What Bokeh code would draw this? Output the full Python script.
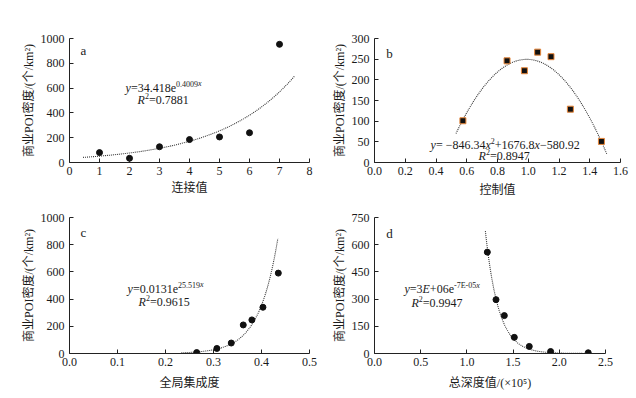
import numpy as np
from bokeh.plotting import figure
from bokeh.models import Range1d, FixedTicker, Label
from bokeh.layouts import column, row
from bokeh.embed import file_html
from bokeh.resources import INLINE

# ---------------- data ----------------
conn_x = [1, 2, 3, 4, 5, 6, 7]
conn_y = [80, 34, 127, 185, 206, 240, 953]
conn_fit = (34.418, 0.4009)          # y = a*e^(b x)
conn_fit_range = (0.45, 7.5)

ctrl_x = [0.575, 0.862, 0.975, 1.061, 1.148, 1.274, 1.476]
ctrl_y = [101, 246, 222, 267, 256, 129, 51]
ctrl_fit = (-846.34, 1676.8, -580.92)  # y = a x^2 + b x + c
ctrl_fit_range = (0.53, 1.51)

integ_x = [0.265, 0.307, 0.337, 0.362, 0.380, 0.403, 0.435]
integ_y = [7, 37, 77, 210, 247, 340, 591]
integ_fit = (0.0131, 25.519)
integ_fit_range = (0.233, 0.434)

depth_x = [1.221, 1.315, 1.405, 1.513, 1.675, 1.906, 2.313]
depth_y = [559, 297, 209, 89, 39, 11, 4]
depth_fit = (3e6, -7e-5)             # x in units of 1e5
depth_fit_range = (1.20, 2.30)

a_xticks = [0, 1, 2, 3, 4, 5, 6, 7, 8]
a_xlabels = ["0", "1", "2", "3", "4", "5", "6", "7", "8"]
a_yticks = [0, 200, 400, 600, 800, 1000]
b_xticks = [0.0, 0.2, 0.4, 0.6, 0.8, 1.0, 1.2, 1.4, 1.6]
b_xlabels = ["0.0", "0.2", "0.4", "0.6", "0.8", "1.0", "1.2", "1.4", "1.6"]
b_yticks = [0, 50, 100, 150, 200, 250, 300]
c_xticks = [0.0, 0.1, 0.2, 0.3, 0.4, 0.5]
c_xlabels = ["0.0", "0.1", "0.2", "0.3", "0.4", "0.5"]
c_yticks = [0, 200, 400, 600, 800, 1000]
d_xticks = [0.0, 0.5, 1.0, 1.5, 2.0, 2.5]
d_xlabels = ["0.0", "0.5", "1.0", "1.5", "2.0", "2.5"]
d_yticks = [0, 150, 300, 450, 600, 750]

ylabel = "商业POI密度/(个/km²)"

SERIF = "Liberation Serif"
MIXED = "Liberation Serif, Noto Sans CJK SC"
TXT = "#1a1a1a"

WIDTHS = {'.': 0.25, '=': 0.564, '+': 0.564, '−': 0.564, '-': 0.333, 'e': 0.444,
          'y': 0.444, 'x': 0.444, 'R': 0.611, 'E': 0.611, ' ': 0.25}


def tw(s, fs):
    return sum(WIDTHS.get(ch, 0.5) for ch in s) * fs


def make_fig(w, h, xr, yr, xt, xl, yt, xlabel, borders, xstand):
    l, r, t, b = borders
    p = figure(width=w, height=h, output_backend="svg", toolbar_location=None,
               x_range=Range1d(*xr), y_range=Range1d(*yr),
               min_border_left=l, min_border_right=r, min_border_top=t, min_border_bottom=b)
    p.outline_line_color = None
    p.xgrid.visible = False
    p.ygrid.visible = False
    p.xaxis.ticker = FixedTicker(ticks=xt)
    p.xaxis.major_label_overrides = {float(k): v for k, v in zip(xt, xl)} | {k: v for k, v in zip(xt, xl)}
    p.yaxis.ticker = FixedTicker(ticks=yt)
    for ax in (p.xaxis[0], p.yaxis[0]):
        ax.major_tick_in = 4
        ax.major_tick_out = 0
        ax.minor_tick_line_color = None
        ax.axis_line_color = "#222222"
        ax.major_tick_line_color = "#222222"
        ax.major_label_text_font = SERIF
        ax.major_label_text_font_size = "12px"
        ax.major_label_text_color = TXT
        ax.axis_label_text_font = MIXED
        ax.axis_label_text_font_size = "12px"
        ax.axis_label_text_font_style = "normal"
        ax.axis_label_text_color = TXT
    p.xaxis.major_label_standoff = 4
    p.yaxis.major_label_standoff = 5
    p.xaxis.axis_label = xlabel
    p.yaxis.axis_label = ylabel
    p.xaxis.axis_label_standoff = xstand
    p.yaxis.axis_label_standoff = 2
    return p


def eq(p, x, y, runs, fs=12):
    off = 0.0
    for text, kind in runs:
        sup = kind.startswith("s")
        ital = kind.endswith("i")
        size = 8 if sup else fs
        p.add_layout(Label(x=x, y=y, x_offset=off, y_offset=(4 if sup else 0), text=text,
                           text_font=SERIF, text_font_size=f"{size}px",
                           text_font_style="italic" if ital else "normal",
                           text_baseline="middle", text_align="left", text_color=TXT))
        off += tw(text, size)


def letter(p, x, y, t):
    p.add_layout(Label(x=x, y=y, text=t, text_font=SERIF, text_font_size="13px",
                       text_baseline="middle", text_align="left", text_color=TXT))


DOT = dict(line_color="#333333", line_width=1.1, line_dash="1 1")
MS = 6

# ---------- panel a ----------
pa = make_fig(318, 199, (0, 8), (0, 1000), a_xticks, a_xlabels, a_yticks, "连接值",
              (69, 9, 38, 33), 3)
xs = np.linspace(*conn_fit_range, 200)
pa.line(xs, conn_fit[0] * np.exp(conn_fit[1] * xs), **DOT)
pa.scatter(conn_x, conn_y, size=MS, color="#111111")
letter(pa, 0.37, 906, "a")
eq(pa, 1.87, 602, [("y", "i"), ("=34.418e", "n"), ("0.4009", "s"), ("x", "si")])
eq(pa, 2.27, 502, [("R", "i"), ("2", "s"), ("=0.7881", "n")])

# ---------- panel b ----------
pb = make_fig(318, 199, (0, 1.6), (0, 300), b_xticks, b_xlabels, b_yticks, "控制值",
              (56, 16, 33, 35), 5)
xs = np.linspace(*ctrl_fit_range, 200)
pb.line(xs, ctrl_fit[0] * xs ** 2 + ctrl_fit[1] * xs + ctrl_fit[2], **DOT)
pb.scatter(ctrl_x, ctrl_y, marker="square", size=MS, fill_color="#111111",
           line_color="#e8873a", line_width=1)
letter(pb, 0.076, 264, "b")
eq(pb, 0.365, 42, [("y", "i"), ("= −846.34", "n"), ("x", "i"), ("2", "s"),
                   ("+1676.8", "n"), ("x", "i"), ("−580.92", "n")])
eq(pb, 0.677, 15.4, [("R", "i"), ("2", "s"), ("=0.8947", "n")])

# ---------- panel c ----------
pc = make_fig(318, 199, (0, 0.5), (0, 1000), c_xticks, c_xlabels, c_yticks, "全局集成度",
              (69, 9, 18, 45), 7)
xs = np.linspace(*integ_fit_range, 200)
pc.line(xs, integ_fit[0] * np.exp(integ_fit[1] * xs), **DOT)
pc.scatter(integ_x, integ_y, size=MS, color="#111111")
letter(pc, 0.023, 891, "c")
eq(pc, 0.121, 476, [("y", "i"), ("=0.0131e", "n"), ("25.519", "s"), ("x", "si")])
eq(pc, 0.144, 377, [("R", "i"), ("2", "s"), ("=0.9615", "n")])

# ---------- panel d ----------
pd_ = make_fig(318, 199, (0, 2.5), (0, 750), d_xticks, d_xlabels, d_yticks, "总深度值/(×10⁵)",
               (56, 31, 18, 45), 7)
xs = np.linspace(*depth_fit_range, 200)
pd_.line(xs, depth_fit[0] * np.exp(depth_fit[1] * xs * 1e5), **DOT)
pd_.scatter(depth_x, depth_y, size=MS, color="#111111")
letter(pd_, 0.126, 663, "d")
eq(pd_, 0.324, 353, [("y", "i"), ("=3", "n"), ("E", "i"), ("+06e", "n"), ("-7E-05", "s"), ("x", "si")])
eq(pd_, 0.40, 277, [("R", "i"), ("2", "s"), ("=0.9947", "n")])

layout = column(row(pa, pb), row(pc, pd_))
open("out.html", "w").write(file_html(layout, INLINE))
